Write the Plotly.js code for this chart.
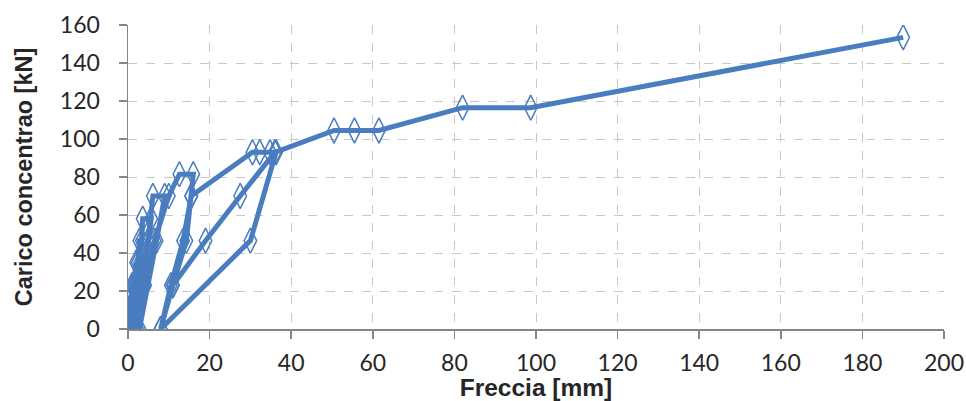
<!DOCTYPE html>
<html>
<head>
<meta charset="utf-8">
<script src="https://cdn.plot.ly/plotly-3.0.1.min.js"></script>
<style>html,body{margin:0;padding:0;background:#fff;}#chart{width:966px;height:401px;}</style>
</head>
<body>
<div id="chart"></div>
<script>
// Freccia [mm] (deflection) and Carico concentrato [kN] (load)
const freccia = [
  0, 0.3, 0.6, 1.0, 0.8, 0.5,
  0.9, 1.3, 2.0, 1.6, 1.1,
  1.6, 2.0, 2.4, 2.8, 3.4, 2.6, 1.6,
  2.2, 3.0, 3.6, 5.7, 4.3, 2.3,
  3.3, 4.9, 6.1, 9.0, 7.0, 2.8,
  4.2, 6.5, 10.0, 12.6, 16.0, 15.5, 14.3, 11.0, 8.0,
  10.5, 13.5, 15.5, 30.5, 32.3, 34.8, 36.3, 30.0, 8.0,
  11.0, 19.0, 27.5, 36.0, 50.5, 55.5, 61.5, 82.0, 98.7, 190.0
];
const carico = [
  0, 6, 12, 23, 12, 0,
  12, 23, 35, 23, 0,
  12, 23, 35, 46.5, 46.5, 23, 0,
  23, 35, 58, 58, 35, 0,
  23, 46.5, 70, 70, 46.5, 0,
  23, 46.5, 70, 81.5, 81.5, 70, 46.5, 23, 0,
  23, 46.5, 70, 93, 93, 93, 93, 46.5, 0,
  23, 46.5, 70, 93, 104.5, 104.5, 104.5, 116.5, 116.5, 153.5
];
const xTicks = [0, 20, 40, 60, 80, 100, 120, 140, 160, 180, 200];
const yTicks = [0, 20, 40, 60, 80, 100, 120, 140, 160];

const blue = '#4A7DBF';
const trace = {
  x: freccia, y: carico, type: 'scatter', mode: 'lines+markers',
  line: {color: blue, width: 5},
  marker: {symbol: 'diamond-tall-open', size: 18, color: blue, line: {color: blue, width: 1.5}},
  showlegend: false, hoverinfo: 'x+y'
};
const fontFam = 'Lato, "Liberation Sans", sans-serif';
const titleFam = '"Liberation Sans", Arial, sans-serif';
const layout = {
  width: 966, height: 401,
  margin: {l: 128, r: 22, t: 25, b: 72},
  paper_bgcolor: '#fff', plot_bgcolor: '#fff',
  font: {family: fontFam, size: 23, color: '#262626'},
  xaxis: {
    range: [0, 200], tickvals: xTicks, ticktext: xTicks.map(String),
    showgrid: true, gridcolor: '#C8C8C8', griddash: 'dash', gridwidth: 1,
    showline: true, linecolor: '#868686', linewidth: 1.5,
    ticks: 'outside', ticklen: 8, tickcolor: '#868686', tickwidth: 1.5,
    ticklabelstandoff: 5, zeroline: false,
    title: {text: 'Freccia [mm]', font: {family: titleFam, size: 24.5, color: '#262626', weight: 'bold'}, standoff: 0},
    tickfont: {family: fontFam, size: 23, color: '#262626'}
  },
  yaxis: {
    range: [0, 160], tickvals: yTicks, ticktext: yTicks.map(String),
    showgrid: true, gridcolor: '#C8C8C8', griddash: 'dash', gridwidth: 1,
    showline: true, linecolor: '#868686', linewidth: 1.5,
    ticks: 'outside', ticklen: 8, tickcolor: '#868686', tickwidth: 1.5,
    ticklabelstandoff: 14, zeroline: false,
    title: {text: 'Carico concentrao [kN]', font: {family: titleFam, size: 23.5, color: '#262626', weight: 'bold'}, standoff: 20},
    tickfont: {family: fontFam, size: 23, color: '#262626'}
  }
};
Plotly.newPlot('chart', [trace], layout, {displayModeBar: false, staticPlot: true});
</script>
</body>
</html>
